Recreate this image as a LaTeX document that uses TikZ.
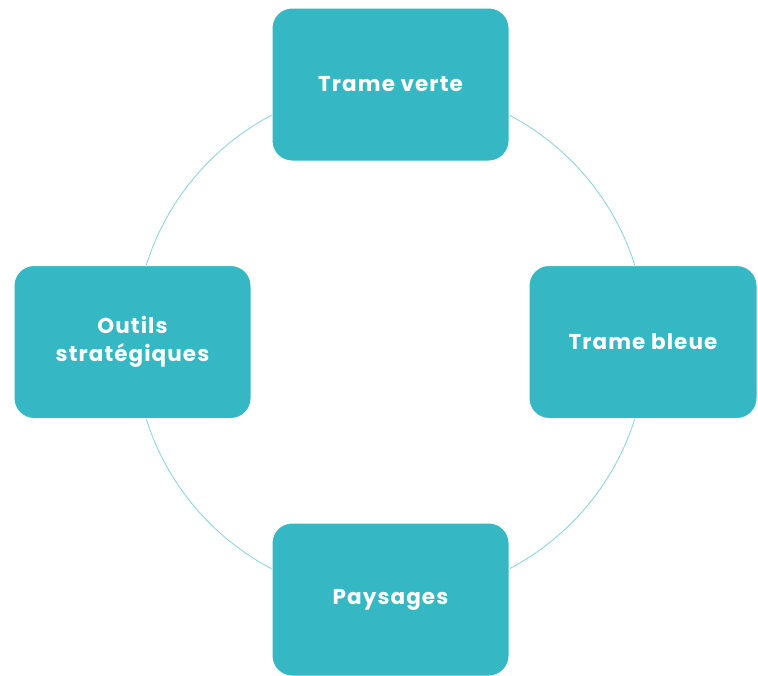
\documentclass[tikz,border=0pt]{standalone}
\usepackage{fontspec}
\setmainfont{Poppins}
\usepackage{tikz}
\usetikzlibrary{positioning}
\definecolor{boxteal}{HTML}{36B7C4}
\definecolor{ringteal}{HTML}{86D2DA}

\begin{document}
\begin{tikzpicture}
      [x=1pt, y=-1pt,
       themebox/.style={rectangle, rounded corners=20pt, fill=boxteal,
         draw=white, line width=1pt, minimum width=237pt, minimum height=153pt,
         inner sep=0pt, align=center, text=white,
         font=\fontsize{21.5}{28}\selectfont\bfseries\addfontfeature{LetterSpace=5}}]
      \useasboundingbox (0, 0) rectangle (758, 675);
      \coordinate (c) at (390.5, 342);

      \draw [ringteal, line width=0.8pt] (c) circle [radius=256pt];

      \node (verte) [themebox] at (390.5, 84.5) {Trame verte};
      \node (bleue) [themebox, minimum width=228pt] at (643, 342) {Trame bleue};
      \node (outils) [themebox] at (132.5, 342) {Outils\\strat\'egiques};
      \node (paysages) [themebox] at (390.5, 599.5) {Paysages};

    \end{tikzpicture}
\end{document}
